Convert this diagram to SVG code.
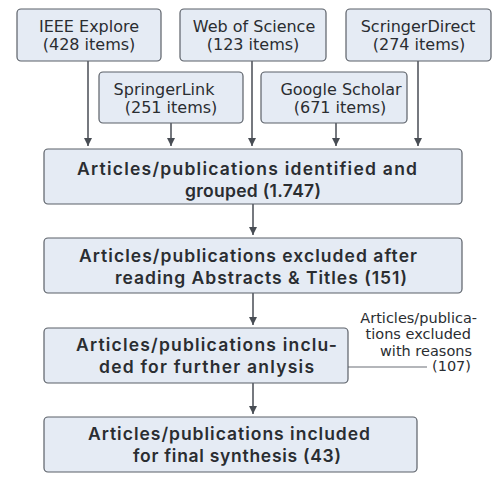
<svg xmlns="http://www.w3.org/2000/svg" width="496" height="479" viewBox="0 0 496 479">
<defs>
<marker id="ah" viewBox="0 0 10 10" refX="10" refY="5" markerWidth="8" markerHeight="8" markerUnits="userSpaceOnUse" orient="auto">
<path d="M0,0 L10,5 L0,10 z" fill="#484d54"/>
</marker>
<style>
.box{fill:#e5ebf4;stroke:#5b6068;stroke-width:1.2}
.src{font-family:"DejaVu Sans","Liberation Sans",sans-serif;font-size:16px;fill:#2a2d31;text-anchor:middle}
.main{font-family:Inter,"Open Sans","DejaVu Sans",sans-serif;font-size:17.5px;font-weight:600;fill:#2a2d31;text-anchor:middle}
.side{font-family:"DejaVu Sans","Liberation Sans",sans-serif;font-size:14.5px;fill:#2a2d31;text-anchor:end}
.conn{stroke:#484d54;stroke-width:1.5;fill:none}
</style>
</defs>
<rect width="496" height="479" fill="#ffffff"/>
<g id="connectors">
<line class="conn" x1="88" y1="61" x2="88" y2="146" marker-end="url(#ah)"/>
<line class="conn" x1="171" y1="123" x2="171" y2="146" marker-end="url(#ah)"/>
<line class="conn" x1="252" y1="61" x2="252" y2="146" marker-end="url(#ah)"/>
<line class="conn" x1="336" y1="123" x2="336" y2="146" marker-end="url(#ah)"/>
<line class="conn" x1="418" y1="61" x2="418" y2="146" marker-end="url(#ah)"/>
<line class="conn" x1="253" y1="204" x2="253" y2="235" marker-end="url(#ah)"/>
<line class="conn" x1="253" y1="293" x2="253" y2="325" marker-end="url(#ah)"/>
<line class="conn" x1="253" y1="383" x2="253" y2="414" marker-end="url(#ah)"/>
<line x1="348" y1="367" x2="427" y2="367" stroke="#6a6f76" stroke-width="1.2"/>
</g>
<g id="ieee">
<rect class="box" x="17" y="9" width="144" height="52" rx="4"/>
<text class="src" x="89" y="32">IEEE Explore</text>
<text class="src" x="89" y="50">(428 items)</text>
</g>
<g id="wos">
<rect class="box" x="180" y="9" width="146" height="52" rx="4"/>
<text class="src" x="254" y="32">Web of Science</text>
<text class="src" x="253" y="50">(123 items)</text>
</g>
<g id="scringer">
<rect class="box" x="346" y="9" width="145" height="52" rx="4"/>
<text class="src" x="418" y="32">ScringerDirect</text>
<text class="src" x="419" y="50">(274 items)</text>
</g>
<g id="springerlink">
<rect class="box" x="99" y="72" width="144" height="51" rx="4"/>
<text class="src" x="164" y="95">SpringerLink</text>
<text class="src" x="171" y="113">(251 items)</text>
</g>
<g id="scholar">
<rect class="box" x="261" y="72" width="146" height="51" rx="4"/>
<text class="src" x="341" y="95">Google Scholar</text>
<text class="src" x="340" y="113">(671 items)</text>
</g>
<g id="identified">
<rect class="box" x="44" y="149" width="418" height="55" rx="4"/>
<text class="main" x="247" y="175" textLength="340" lengthAdjust="spacing">Articles/publications identified and</text>
<text class="main" x="253" y="197" textLength="136" lengthAdjust="spacing">grouped (1.747)</text>
</g>
<g id="excluded">
<rect class="box" x="44" y="238" width="418" height="55" rx="4"/>
<text class="main" x="248" y="262" textLength="338" lengthAdjust="spacing">Articles/publications excluded after</text>
<text class="main" x="261" y="284" textLength="292" lengthAdjust="spacing">reading Abstracts &amp; Titles (151)</text>
</g>
<g id="further">
<rect class="box" x="44" y="328" width="304" height="55" rx="4"/>
<text class="main" x="206.5" y="351" textLength="261" lengthAdjust="spacing">Articles/publications inclu-</text>
<text class="main" x="206.5" y="373" textLength="215" lengthAdjust="spacing">ded for further anlysis</text>
</g>
<g id="final">
<rect class="box" x="44" y="417" width="373" height="55" rx="4"/>
<text class="main" x="229" y="440" textLength="282" lengthAdjust="spacing">Articles/publications included</text>
<text class="main" x="237" y="462" textLength="208" lengthAdjust="spacing">for final synthesis (43)</text>
</g>
<g id="reasons">
<text class="side" x="477" y="323">Articles/publica-</text>
<text class="side" x="471" y="339">tions excluded</text>
<text class="side" x="472" y="356">with reasons</text>
<text class="side" x="471" y="371">(107)</text>
</g>
</svg>
